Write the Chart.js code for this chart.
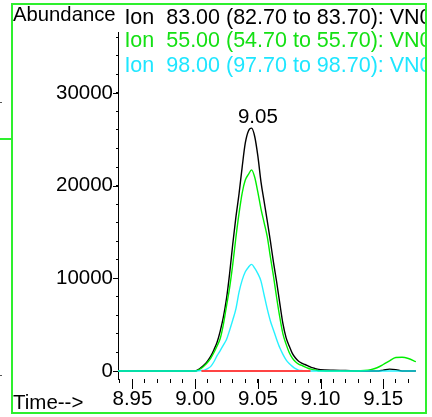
<!DOCTYPE html>
<html>
<head>
<meta charset="utf-8">
<script src="https://cdn.jsdelivr.net/npm/chart.js@4.4.1/dist/chart.umd.min.js"></script>
<style>
  html, body { margin: 0; padding: 0; background: #fff; width: 432px; height: 417px; overflow: hidden; }
  #c { position: absolute; left: 0; top: 0; }
  #frame { position: absolute; left: 11px; top: 3px; width: 412px; height: 407px; border: 2px solid #2ef02e; pointer-events: none; }
  #clip { position: absolute; left: 13px; top: 5px; width: 412px; height: 407px; overflow: hidden; pointer-events: none; }
  .t { position: absolute; font-family: 'Liberation Sans', Arial, sans-serif; font-size: 20.5px; line-height: 20.5px; white-space: pre; color: #000; }
  .ion { font-size: 21.5px; line-height: 21.5px; }
  .art { position: absolute; }
</style>
</head>
<body>
<canvas id="c" width="432" height="417"></canvas>
<div id="clip">
  <div class="t" id="yTitle" style="left:0px; top:-1.4px; font-size:20.3px; line-height:20.3px;">Abundance</div>
  <div class="t ion" id="ion1" style="left:111.4px; top:1.8px; color:#000;">Ion  83.00 (82.70 to 83.70): VN0</div>
  <div class="t ion" id="ion2" style="left:111.4px; top:25.1px; color:#14e014;">Ion  55.00 (54.70 to 55.70): VN0</div>
  <div class="t ion" id="ion3" style="left:111.4px; top:49.5px; color:#1ee6ff;">Ion  98.00 (97.70 to 98.70): VN0</div>
  <div class="t" id="xTitle" style="left:0px; top:386.6px;">Time--&gt;</div>
</div>
<div id="frame"></div>
<div class="art" style="left:0; top:138px; width:11px; height:2px; background:#2ef02e;"></div>
<div class="art" style="left:0; top:102px; width:2px; height:1px; background:#555;"></div>
<div class="art" style="left:0; top:375px; width:2px; height:1px; background:#555;"></div>
<script>
// ---- data ----
const times = [
  8.9385,
  9.0000, 9.0025, 9.0050, 9.0075, 9.0100, 9.0125, 9.0150, 9.0175, 9.0200, 9.0225,
  9.0250, 9.0275, 9.0300, 9.0325, 9.0350, 9.0375, 9.0400, 9.0425, 9.0450, 9.0475,
  9.0500, 9.0525, 9.0550, 9.0575, 9.0600, 9.0625, 9.0650, 9.0675, 9.0700, 9.0725,
  9.0750, 9.0775, 9.0800, 9.0825, 9.0850, 9.0875, 9.0900, 9.0925, 9.0950, 9.0975,
  9.1000,
  9.1100, 9.1200, 9.1300, 9.1350, 9.1400, 9.1450, 9.1500, 9.1550, 9.1600, 9.1650, 9.1700, 9.1760
];
const ion83 = [
  0,
  0, 150, 400, 700, 1100, 1600, 2300, 3100, 4300, 5800,
  7800, 10500, 13700, 16600, 19100, 22000, 24600, 25900, 26200, 25300,
  23200, 20400, 18300, 16200, 14000, 11700, 9600, 7300, 5100, 3600,
  2700, 1900, 1400, 1050, 850, 700, 550, 400, 300, 200,
  150,
  80, 50, 0, 0, 0, 0, 100, 200, 150, 0, 0, 0
];
const ion55 = [
  0,
  0, 100, 300, 600, 950, 1400, 2000, 2700, 3500, 5000,
  7000, 9000, 11500, 14400, 17000, 19200, 20600, 21200, 21700, 20900,
  19300, 17500, 16000, 14500, 12300, 10200, 7900, 5800, 4000, 2900,
  2000, 1400, 1000, 750, 600, 450, 300, 200, 120, 60,
  30,
  0, 0, 0, 50, 150, 350, 700, 1100, 1450, 1480, 1350, 1000
];
const ion98 = [
  0,
  0, 20, 60, 100, 250, 500, 1000, 1650, 2200, 2800,
  3400, 4400, 5500, 6700, 8500, 9800, 10700, 11200, 11500, 11100,
  10500, 9700, 8200, 6700, 5400, 4400, 3400, 2500, 1800, 1200,
  800, 500, 250, 100, 50, 20, 0, 0, 0, 0,
  0,
  0, 0, 0, 0, 0, 0, 0, 0, 0, 0, 0, 0
];
const baselineTimes = [9.005, 9.092];
const baselineValues = [0, 0];
const peakLabel = "9.05";
const peakRT = 9.05;
const xRange = [8.9385, 9.1761];
const yRange = [-863, 36570];
const xTickValues = [8.94, 8.95, 8.96, 8.97, 8.98, 8.99, 9.00, 9.01, 9.02, 9.03, 9.04, 9.05,
                     9.06, 9.07, 9.08, 9.09, 9.10, 9.11, 9.12, 9.13, 9.14, 9.15, 9.16, 9.17];
const xLabelValues = [8.95, 9.00, 9.05, 9.10, 9.15];
const yTickValues = [0, 2000, 4000, 6000, 8000, 10000, 12000, 14000, 16000, 18000, 20000,
                     22000, 24000, 26000, 28000, 30000, 32000, 34000, 36000];
const yLabelValues = [0, 10000, 20000, 30000];

const pts = (xs, ys) => xs.map((x, i) => ({ x: x, y: ys[i] }));
const FONT = "'Liberation Sans', Arial, sans-serif";
const isLabelX = v => xLabelValues.some(l => Math.abs(l - v) < 1e-9);
const isLabelY = v => yLabelValues.some(l => Math.abs(l - v) < 1e-9);

const extraTicks = {
  id: 'extraTicks',
  afterDraw(chart) {
    const ctx = chart.ctx, xs = chart.scales.x, ys = chart.scales.y, a = chart.chartArea;
    ctx.save();
    ctx.strokeStyle = '#000';
    ctx.lineWidth = 1;
    xLabelValues.forEach(v => {
      const px = Math.round(xs.getPixelForValue(v)) + 0.5;
      ctx.beginPath(); ctx.moveTo(px, a.bottom); ctx.lineTo(px, a.bottom + 10); ctx.stroke();
    });
    yLabelValues.forEach(v => {
      const py = Math.round(ys.getPixelForValue(v)) + 0.5;
      ctx.beginPath(); ctx.moveTo(a.left - 5, py); ctx.lineTo(a.left, py); ctx.stroke();
    });
    // peak label
    const peakVal = Math.max.apply(null, ion83);
    ctx.fillStyle = '#000';
    ctx.font = '20.5px ' + FONT;
    ctx.textAlign = 'center';
    ctx.textBaseline = 'alphabetic';
    ctx.fillText(peakLabel, xs.getPixelForValue(peakRT), ys.getPixelForValue(peakVal) - 5);
    ctx.restore();
  }
};

new Chart(document.getElementById('c'), {
  type: 'line',
  data: {
    datasets: [
      { label: 'baseline', data: pts(baselineTimes, baselineValues), borderColor: '#ff4444', borderWidth: 2, pointRadius: 0, order: 0 },
      { label: 'Ion 98.00', data: pts(times, ion98), borderColor: 'rgba(0,238,255,0.85)', borderWidth: 1.4, pointRadius: 0, cubicInterpolationMode: 'monotone', order: 1 },
      { label: 'Ion 55.00', data: pts(times, ion55), borderColor: '#00ee00', borderWidth: 1.4, pointRadius: 0, cubicInterpolationMode: 'monotone', order: 2 },
      { label: 'Ion 83.00', data: pts(times, ion83), borderColor: '#000000', borderWidth: 1.4, pointRadius: 0, cubicInterpolationMode: 'monotone', order: 3 }
    ]
  },
  options: {
    responsive: false,
    animation: false,
    devicePixelRatio: 1,
    layout: { padding: { top: 32, right: 16, left: 0, bottom: 0 } },
    plugins: { legend: { display: false }, tooltip: { enabled: false } },
    scales: {
      x: {
        type: 'linear',
        min: xRange[0], max: xRange[1],
        afterBuildTicks: s => { s.ticks = xTickValues.map(v => ({ value: v })); },
        afterFit: s => { s.height = 38; },
        border: { display: false },
        grid: { drawOnChartArea: false, tickLength: 4, color: '#000', tickColor: '#000' },
        ticks: {
          autoSkip: false, maxRotation: 0, minRotation: 0,
          padding: 4, color: '#000', font: { family: FONT, size: 20.5 },
          callback: v => isLabelX(v) ? v.toFixed(2) : ''
        }
      },
      y: {
        min: yRange[0], max: yRange[1],
        afterBuildTicks: s => { s.ticks = yTickValues.map(v => ({ value: v })); },
        afterFit: s => { s.width = 118; },
        border: { display: true, color: '#000', width: 1 },
        grid: { drawOnChartArea: false, tickLength: 2, color: '#000', tickColor: '#000' },
        ticks: {
          autoSkip: false,
          padding: 3, color: '#000', font: { family: FONT, size: 20.5 },
          callback: v => isLabelY(v) ? String(v) : ''
        }
      }
    }
  },
  plugins: [extraTicks]
});
</script>
</body>
</html>
